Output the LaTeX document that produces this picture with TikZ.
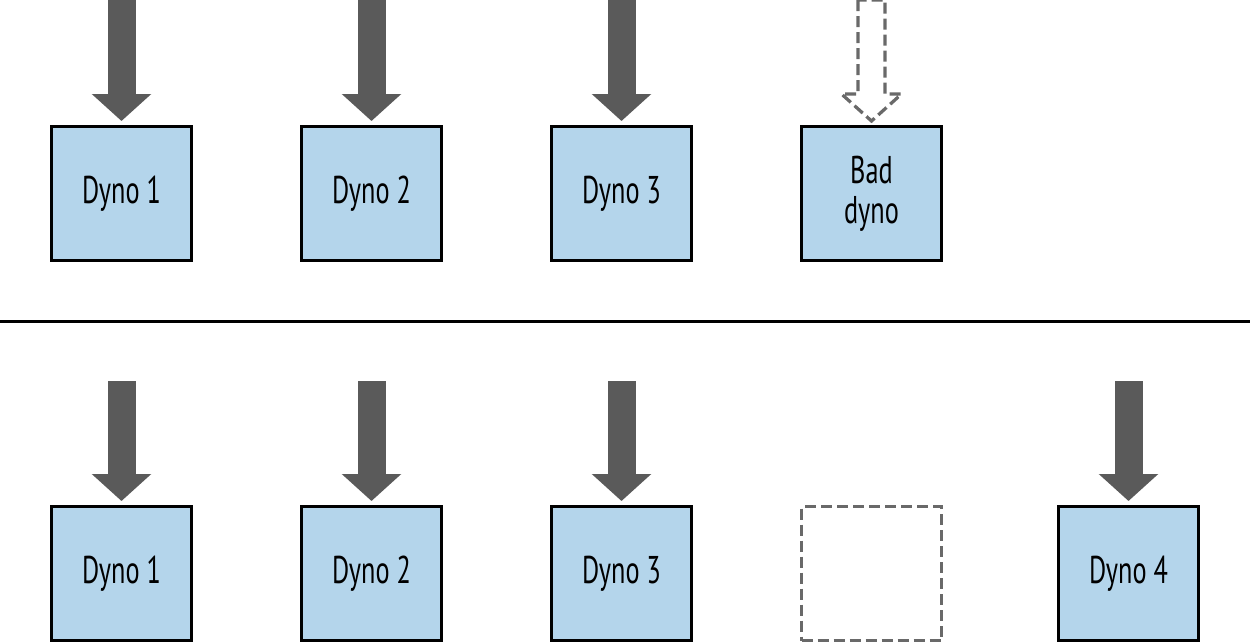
\documentclass[tikz,border=0pt]{standalone}
\usepackage{fontspec}
\setmainfont{PT Sans}[FakeStretch=0.68]
\usepackage{xcolor}
\usepackage{tikz}
\usetikzlibrary{
arrows.meta,
positioning,
calc
}

\definecolor{dynoblue}{RGB}{180,213,235}
\definecolor{flowgray}{RGB}{90,90,90}
\definecolor{ghostgray}{RGB}{105,105,105}

\begin{document}
\begin{tikzpicture}[
dyno/.style={
draw,
line width=0.06cm,
fill=dynoblue,
minimum width=2.8cm,
minimum height=2.68cm,
align=center,
font=\fontsize{22}{23}\selectfont
},
ghost/.style={
draw=ghostgray,
dash pattern=on 0.22cm off 0.1cm,
line width=0.065cm,
minimum width=2.8cm,
minimum height=2.68cm
},
flow/.style={
draw=flowgray,
line width=0.56cm,
-{Triangle[length=0.54cm,width=1.16cm]}
}
]

\useasboundingbox (0,0) rectangle (25,-12.86);

% top row
\node[dyno] (d1) at (2.43,-3.87) {Dyno 1};
\node[dyno,right=2.14cm of d1] (d2) {Dyno 2};
\node[dyno,right=2.14cm of d2] (d3) {Dyno 3};
\node[dyno,right=2.14cm of d3] (bad) {Bad\\dyno};

% separator
\coordinate (sepl) at (0,-6.42);
\coordinate (sepr) at (25,-6.42);
\draw[line width=0.06cm] (sepl) -- (sepr);

% bottom row
\node[dyno] (e1) at (2.43,-11.47) {Dyno 1};
\node[dyno,right=2.14cm of e1] (e2) {Dyno 2};
\node[dyno,right=2.14cm of e2] (e3) {Dyno 3};
\node[ghost,right=2.14cm of e3] (gone) {};
\node[dyno] (e4) at (22.57,-11.47) {Dyno 4};

% incoming traffic
\foreach \n in {d1,d2,d3}{
\coordinate (in\n) at (\n.north |- 0,0);
\draw[flow] (in\n) -- ([yshift=0.08cm]\n.north);
}
\foreach \n in {e1,e2,e3,e4}{
\coordinate (in\n) at ([yshift=2.48cm]\n.north);
\draw[flow] (in\n) -- ([yshift=0.08cm]\n.north);
}

% no traffic to the bad dyno
\coordinate (inbad) at (bad.north |- 0,0);
\coordinate (tipbad) at ([yshift=0.08cm]bad.north);
\draw[ghostgray,dash pattern=on 0.22cm off 0.1cm,line width=0.065cm,line join=miter]
($(inbad)+(-0.27,0)$) -- ($(tipbad)+(-0.27,0.54)$) -- ($(tipbad)+(-0.6,0.54)$)
-- (tipbad) -- ($(tipbad)+(0.6,0.54)$) -- ($(tipbad)+(0.27,0.54)$)
-- ($(inbad)+(0.27,0)$) -- cycle;

\end{tikzpicture}
\end{document}
